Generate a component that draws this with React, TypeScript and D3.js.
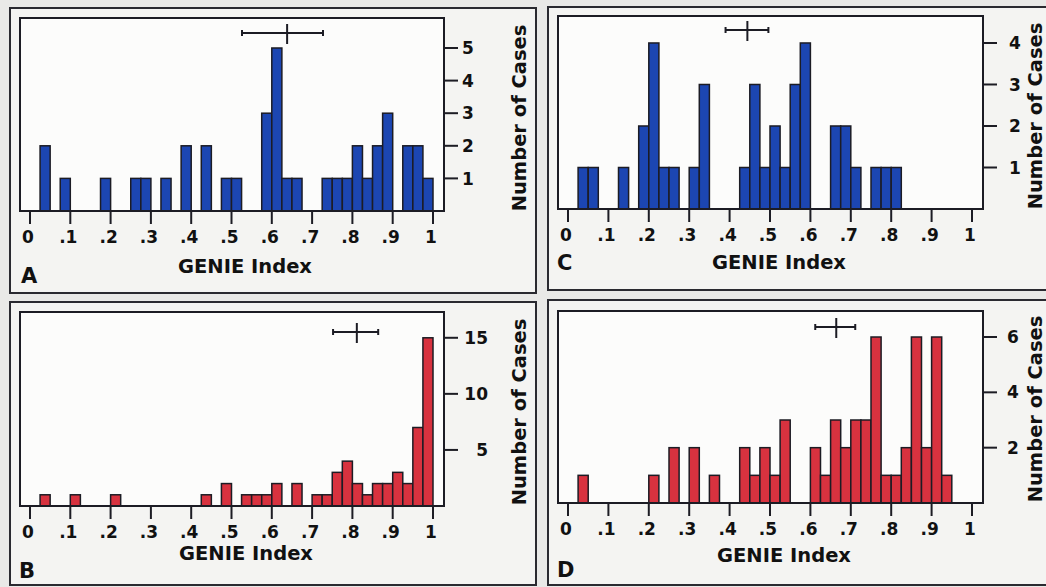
import * as d3 from "d3";

// 40 bins of width .025 on the GENIE Index, counts
const binWidth = 0.025;

const countsA = [
  0, 2, 0, 1, 0, 0, 0, 1, 0, 0, 1, 1, 0, 1, 0, 2, 0, 2, 0, 1,
  1, 0, 0, 3, 5, 1, 1, 0, 0, 1, 1, 1, 2, 1, 2, 3, 0, 2, 2, 1,
];
const countsB = [
  0, 1, 0, 0, 1, 0, 0, 0, 1, 0, 0, 0, 0, 0, 0, 0, 0, 1, 0, 2,
  0, 1, 1, 1, 2, 0, 2, 0, 1, 1, 3, 4, 2, 1, 2, 2, 3, 2, 7, 15,
];
const countsC = [
  0, 1, 1, 0, 0, 1, 0, 2, 4, 1, 1, 0, 1, 3, 0, 0, 0, 1, 3, 1,
  2, 1, 3, 4, 0, 0, 2, 2, 1, 0, 1, 1, 1, 0, 0, 0, 0, 0, 0, 0,
];
const countsD = [
  0, 1, 0, 0, 0, 0, 0, 0, 1, 0, 2, 0, 2, 0, 1, 0, 0, 2, 1, 2,
  1, 3, 0, 0, 2, 1, 3, 2, 3, 3, 6, 1, 1, 2, 6, 2, 6, 1, 0, 0,
];

// mean and range shown above each histogram
const errA = { mean: 0.638, lo: 0.526, hi: 0.727 };
const errB = { mean: 0.811, lo: 0.752, hi: 0.864 };
const errC = { mean: 0.444, lo: 0.39, hi: 0.496 };
const errD = { mean: 0.664, lo: 0.612, hi: 0.711 };

const xTicks = [0, 0.1, 0.2, 0.3, 0.4, 0.5, 0.6, 0.7, 0.8, 0.9, 1];
const xTickLabels = ["0", ".1", ".2", ".3", ".4", ".5", ".6", ".7", ".8", ".9", "1"];
const yTicksA = [1, 2, 3, 4, 5];
const yTicksB = [5, 10, 15];
const yTicksC = [1, 2, 3, 4];
const yTicksD = [2, 4, 6];

const BLUE = "#1c46b2";
const RED = "#d8323f";
const INK = "#1c1c24";
const FONT = "'DejaVu Sans', sans-serif";

type Err = { mean: number; lo: number; hi: number };

function Panel({
  letter,
  counts,
  err,
  yTicks,
  yMax,
  fill,
  outer,
  plot,
  errY,
  yLabel,
  titleY,
  letterPos,
}: {
  letter: string;
  counts: number[];
  err: Err;
  yTicks: number[];
  yMax: number;
  fill: string;
  outer: { x: number; y: number; w: number; h: number };
  plot: { left: number; top: number; right: number; bottom: number };
  errY: number;
  yLabel: { anchor: string; dx: number };
  titleY: { dx: number; cy: number };
  letterPos: { x: number; y: number; gx: number; gy: number };
}) {
  const x = d3
    .scaleLinear()
    .domain([0, 1])
    .range([plot.left + 10, plot.right - 11]);
  const y = d3.scaleLinear().domain([0, yMax]).range([plot.bottom, plot.top]);
  const ey = plot.top + errY;

  return (
    <g>
      <rect
        x={outer.x}
        y={outer.y}
        width={outer.w}
        height={outer.h}
        fill="#f4f4f2"
        stroke="#2a2a30"
        strokeWidth={2}
      />
      <rect
        x={plot.left}
        y={plot.top}
        width={plot.right - plot.left}
        height={plot.bottom - plot.top}
        fill="#fcfcfb"
      />
      {counts.map((c, i) =>
        c > 0 ? (
          <rect
            key={i}
            x={x(i * binWidth)}
            y={y(c)}
            width={x(binWidth) - x(0)}
            height={y(0) - y(c)}
            fill={fill}
            stroke={INK}
            strokeWidth={1.5}
          />
        ) : null
      )}
      <rect
        x={plot.left}
        y={plot.top}
        width={plot.right - plot.left}
        height={plot.bottom - plot.top}
        fill="none"
        stroke={INK}
        strokeWidth={2}
      />
      {/* x axis ticks */}
      {xTicks.map((t, i) => (
        <g key={i}>
          <line
            x1={x(t)}
            x2={x(t)}
            y1={plot.bottom}
            y2={plot.bottom + 13}
            stroke={INK}
            strokeWidth={2}
          />
          <text
            x={x(t) - 2}
            y={plot.bottom + 32}
            textAnchor="middle"
            fontFamily={FONT}
            fontWeight="bold"
            fontSize={17}
            fill="#111"
          >
            {xTickLabels[i]}
          </text>
        </g>
      ))}
      {/* y axis on the right */}
      {yTicks.map((t) => (
        <g key={t}>
          <line
            x1={plot.right}
            x2={plot.right + 14}
            y1={y(t)}
            y2={y(t)}
            stroke={INK}
            strokeWidth={2}
          />
          <text
            x={plot.right + yLabel.dx}
            y={y(t)}
            dy="0.36em"
            textAnchor={yLabel.anchor}
            fontFamily={FONT}
            fontWeight="bold"
            fontSize={17}
            fill="#111"
          >
            {t}
          </text>
        </g>
      ))}
      <text
        transform={`translate(${plot.right + titleY.dx},${titleY.cy}) rotate(-90)`}
        textAnchor="middle"
        dy="0.36em"
        fontFamily={FONT}
        fontWeight="bold"
        fontSize={19.5}
        fill="#111"
      >
        Number of Cases
      </text>
      <text
        x={letterPos.gx}
        y={letterPos.gy}
        textAnchor="middle"
        fontFamily={FONT}
        fontWeight="bold"
        fontSize={19.5}
        fill="#111"
      >
        GENIE Index
      </text>
      <text
        x={letterPos.x}
        y={letterPos.y}
        fontFamily={FONT}
        fontWeight="bold"
        fontSize={21}
        fill="#111"
      >
        {letter}
      </text>
      {/* mean with range */}
      <g stroke={INK} strokeWidth={2}>
        <line x1={x(err.lo)} x2={x(err.hi)} y1={ey} y2={ey} />
        <line x1={x(err.lo)} x2={x(err.lo)} y1={ey - 3} y2={ey + 3} />
        <line x1={x(err.hi)} x2={x(err.hi)} y1={ey - 3} y2={ey + 3} />
        <line x1={x(err.mean)} x2={x(err.mean)} y1={ey - 9} y2={ey + 11} />
      </g>
    </g>
  );
}

export default function App() {
  return (
    <svg
      width={1046}
      height={587}
      style={{ position: "absolute", left: 0, top: 0 }}
    >
      <rect x={0} y={0} width={1046} height={587} fill="#e9e9e7" />
      <Panel
        letter="A"
        counts={countsA}
        err={errA}
        yTicks={yTicksA}
        yMax={5.92}
        fill={BLUE}
        outer={{ x: 10, y: 8, w: 526, h: 285 }}
        plot={{ left: 20, top: 18, right: 444, bottom: 211 }}
        errY={15}
        yLabel={{ anchor: "middle", dx: 24 }}
        titleY={{ dx: 75, cy: 118 }}
        letterPos={{ x: 21, y: 283, gx: 245, gy: 273 }}
      />
      <Panel
        letter="B"
        counts={countsB}
        err={errB}
        yTicks={yTicksB}
        yMax={17.3}
        fill={RED}
        outer={{ x: 10, y: 302, w: 526, h: 283 }}
        plot={{ left: 20, top: 312, right: 444, bottom: 506 }}
        errY={20}
        yLabel={{ anchor: "end", dx: 44 }}
        titleY={{ dx: 75, cy: 412 }}
        letterPos={{ x: 19, y: 578, gx: 246, gy: 560 }}
      />
      <Panel
        letter="C"
        counts={countsC}
        err={errC}
        yTicks={yTicksC}
        yMax={4.65}
        fill={BLUE}
        outer={{ x: 548, y: 7, w: 520, h: 283 }}
        plot={{ left: 558, top: 16, right: 983, bottom: 209 }}
        errY={14}
        yLabel={{ anchor: "middle", dx: 32 }}
        titleY={{ dx: 52, cy: 116 }}
        letterPos={{ x: 557, y: 270, gx: 779, gy: 269 }}
      />
      <Panel
        letter="D"
        counts={countsD}
        err={errD}
        yTicks={yTicksD}
        yMax={6.94}
        fill={RED}
        outer={{ x: 548, y: 300, w: 520, h: 285 }}
        plot={{ left: 558, top: 311, right: 983, bottom: 503 }}
        errY={16}
        yLabel={{ anchor: "middle", dx: 30 }}
        titleY={{ dx: 52, cy: 409 }}
        letterPos={{ x: 557, y: 577, gx: 784, gy: 562 }}
      />
    </svg>
  );
}
